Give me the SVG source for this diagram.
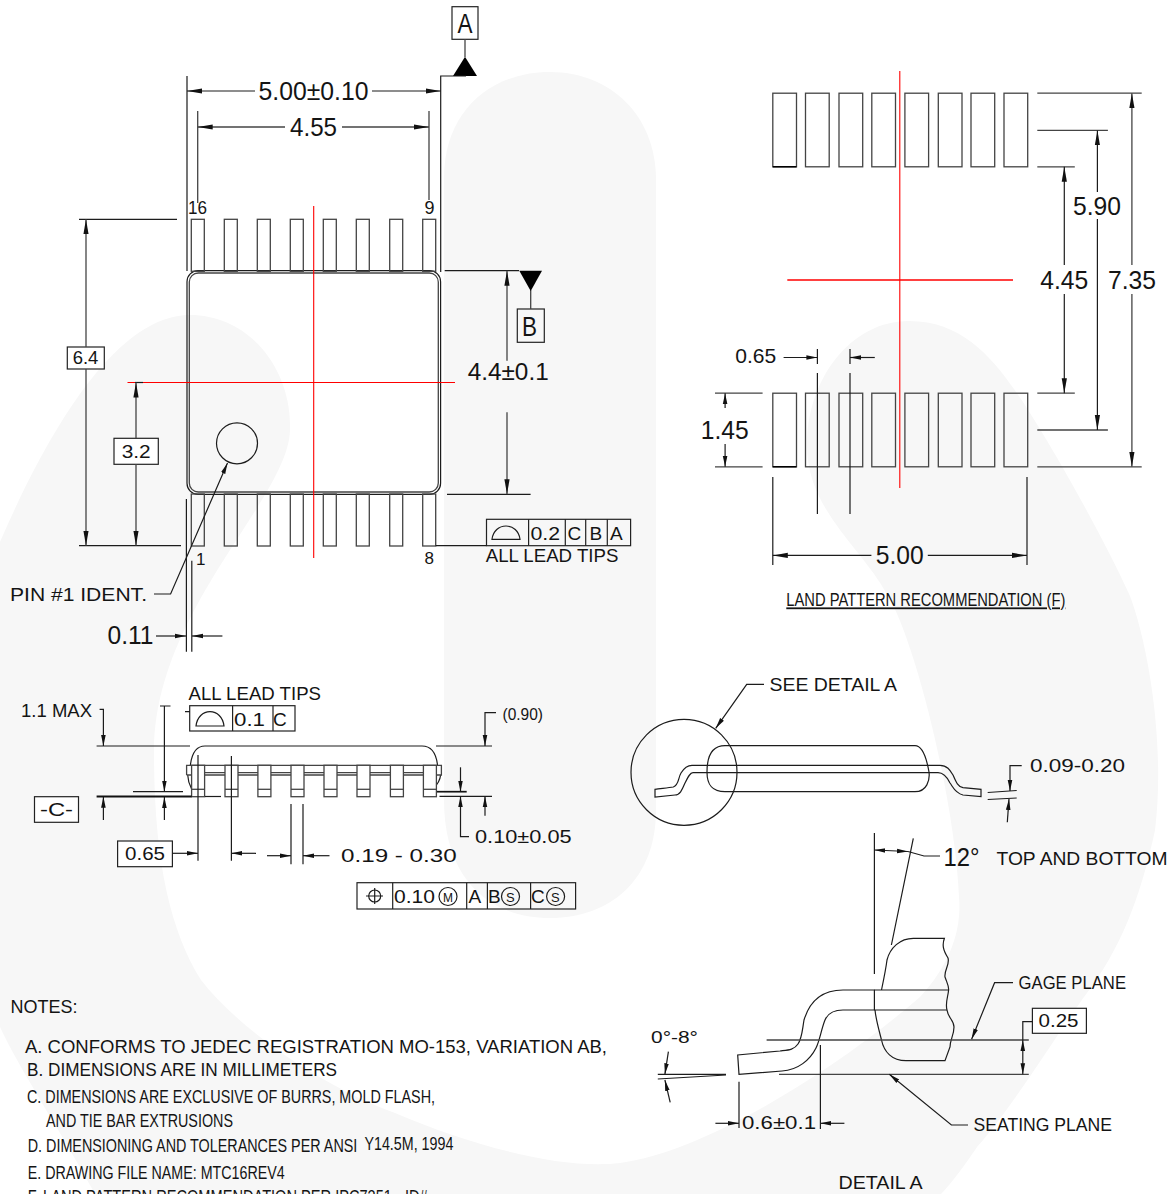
<svg xmlns="http://www.w3.org/2000/svg" width="1174" height="1194" viewBox="0 0 1174 1194">
<defs>
<style>
text{font-family:"Liberation Sans",Arial,sans-serif;fill:#141414}
.l{fill:none;stroke:#1c1c1c;stroke-width:1.2}
.g{fill:none;stroke:#444;stroke-width:1.3}
.r{fill:none;stroke:#f00;stroke-width:1.1}
.a{marker-end:url(#ar)}
.s{marker-end:url(#sm)}
.ss{marker-start:url(#sm);marker-end:url(#sm)}
.f{fill:#000;stroke:none}
.box{fill:#fff;stroke:#222;stroke-width:1.2}
.nb{fill:none;stroke:#222;stroke-width:1.2}
</style>
<marker id="ar" markerUnits="userSpaceOnUse" markerWidth="16" markerHeight="8" refX="15" refY="4" orient="auto-start-reverse"><path d="M0 1.4L15 4L0 6.6Z" fill="#111"/></marker>
<marker id="sm" markerUnits="userSpaceOnUse" markerWidth="12" markerHeight="8" refX="11" refY="4" orient="auto-start-reverse"><path d="M0 1.7L11 4L0 6.3Z" fill="#111"/></marker>
<g id="lead"><rect width="13" height="52" class="g"/></g>
<g id="pad"><rect width="23.7" height="73.6" class="g"/></g>
<g id="slead"><rect width="13" height="31.4" class="g" fill="#fff" style="fill:#fff"/><path d="M0 24H13" class="g"/></g>
</defs>
<rect width="1174" height="1194" fill="#fff"/>
<g id="watermark" fill="#f7f7f7">
<path d="M444 178C444 112 490 72 550 72C610 72 656 115 656 180L656 810C656 880 610 918 550 918C490 918 444 880 444 800Z"/>
<path d="M0 542C40 450 110 315 190 315C250 315 292 370 290 430C288 500 154 610 154 752C154 860 170 930 201 980C240 1030 320 1085 395 1113C470 1145 560 1170 620 1163C700 1153 830 1075 920 997C950 965 962 930 959 897C955 800 915 640 888 596C860 545 807 510 807 445C807 380 850 321 909 321C960 321 990 355 1014 389C1040 425 1100 530 1130 596C1150 650 1165 750 1155 830C1140 900 1120 950 1084 997C1050 1045 1010 1110 977 1147C965 1165 950 1185 941 1194L95 1194C60 1130 20 1070 0 1027Z"/>
</g>
<g id="package-top">
<rect x="187" y="270.7" width="253.6" height="223.6" rx="11" class="l"/>
<rect x="189.3" y="273" width="249" height="219" rx="9" class="g"/>
<use href="#lead" x="191.3" y="219.3"/><use href="#lead" x="224.3" y="219.3"/><use href="#lead" x="257.3" y="219.3"/><use href="#lead" x="290.3" y="219.3"/><use href="#lead" x="323.3" y="219.3"/><use href="#lead" x="356.3" y="219.3"/><use href="#lead" x="389.7" y="219.3"/><use href="#lead" x="422.7" y="219.3"/>
<use href="#lead" x="191.3" y="494"/><use href="#lead" x="224.3" y="494"/><use href="#lead" x="257.3" y="494"/><use href="#lead" x="290.3" y="494"/><use href="#lead" x="323.3" y="494"/><use href="#lead" x="356.3" y="494"/><use href="#lead" x="389.7" y="494"/><use href="#lead" x="422.7" y="494"/>
<circle cx="237" cy="443.3" r="20.5" class="l"/>
<path d="M313.7 206V558M127.5 382.5H455" class="r"/>
<text x="188" y="214" font-size="18" textLength="19" lengthAdjust="spacingAndGlyphs">16</text>
<text x="424.5" y="214" font-size="18">9</text>
<text x="196" y="565" font-size="17">1</text>
<text x="424.5" y="563.5" font-size="17">8</text>
</g>
<g id="datum-a">
<rect x="452" y="6.7" width="26" height="32.6" class="nb"/>
<text x="457.5" y="33" font-size="28" textLength="15" lengthAdjust="spacingAndGlyphs">A</text>
<path d="M465 39V57" class="g"/><path d="M465 56.7L453 76H477Z" class="f"/>
</g>
<g id="datum-b">
<rect x="517.3" y="309" width="27" height="33.3" class="nb"/>
<text x="522" y="336" font-size="28" textLength="15" lengthAdjust="spacingAndGlyphs">B</text>
<path d="M530.7 290V309" class="g"/><path d="M519.3 270.7H542L530.7 291Z" class="f"/>
</g>
<g id="box-6-4"><rect x="67.3" y="347" width="37" height="22" class="box"/><text x="72.7" y="364" font-size="18.5" textLength="25.7" lengthAdjust="spacingAndGlyphs">6.4</text></g>
<g id="box-3-2"><rect x="114" y="438.3" width="44.3" height="26" class="box"/><text x="121.7" y="458" font-size="19" textLength="29" lengthAdjust="spacingAndGlyphs">3.2</text></g>
<g id="tol-top">
<rect x="486.5" y="519.3" width="144.1" height="26.4" class="nb"/>
<path d="M528.6 519.3V545.7M565.3 519.3V545.7M585.7 519.3V545.7M607.3 519.3V545.7" class="nb"/>
<path d="M492 539.3H520C519 531 513 526 506 526C499 526 493 531 492 539.3Z" class="l"/>
<text x="530.4" y="539.5" font-size="19" textLength="29.6" lengthAdjust="spacingAndGlyphs">0.2</text>
<text x="567.5" y="539.5" font-size="19">C</text><text x="589.5" y="539.5" font-size="19">B</text><text x="610" y="539.5" font-size="19">A</text>
<text x="485.7" y="562.3" font-size="18" textLength="132.7" lengthAdjust="spacingAndGlyphs">ALL LEAD TIPS</text>
</g>
<g id="labels-top">
<text x="258.5" y="100" font-size="25" textLength="110" lengthAdjust="spacingAndGlyphs">5.00±0.10</text>
<text x="290" y="136" font-size="25" textLength="47" lengthAdjust="spacingAndGlyphs">4.55</text>
<text x="467.7" y="380" font-size="24" textLength="81" lengthAdjust="spacingAndGlyphs">4.4±0.1</text>
<text x="10" y="601" font-size="18" textLength="137" lengthAdjust="spacingAndGlyphs">PIN #1 IDENT.</text>
<text x="107.5" y="644" font-size="25" textLength="46" lengthAdjust="spacingAndGlyphs">0.11</text>
</g>
<g id="land-pattern">
<use href="#pad" x="772.8" y="93.2"/><use href="#pad" x="805.5" y="93.2"/><use href="#pad" x="839" y="93.2"/><use href="#pad" x="871.8" y="93.2"/><use href="#pad" x="904.9" y="93.2"/><use href="#pad" x="938.3" y="93.2"/><use href="#pad" x="971" y="93.2"/><use href="#pad" x="1004" y="93.2"/>
<use href="#pad" x="772.8" y="393.2"/><use href="#pad" x="805.5" y="393.2"/><use href="#pad" x="839" y="393.2"/><use href="#pad" x="871.8" y="393.2"/><use href="#pad" x="904.9" y="393.2"/><use href="#pad" x="938.3" y="393.2"/><use href="#pad" x="971" y="393.2"/><use href="#pad" x="1004" y="393.2"/>
<path d="M772.8 166.8H796.5M772.8 466.8H796.5" stroke="#000" stroke-width="1.6"/>
<path d="M899.8 71V488" class="r"/><path d="M787.3 280H1013" stroke="#f00" stroke-width="1.6" fill="none"/>
<text x="1073" y="215" font-size="25" textLength="48" lengthAdjust="spacingAndGlyphs">5.90</text>
<text x="1040.3" y="288.6" font-size="25" textLength="48" lengthAdjust="spacingAndGlyphs">4.45</text>
<text x="1108" y="288.6" font-size="25" textLength="48" lengthAdjust="spacingAndGlyphs">7.35</text>
<text x="735.3" y="363" font-size="21" textLength="41" lengthAdjust="spacingAndGlyphs">0.65</text>
<text x="700.8" y="438.6" font-size="25" textLength="48" lengthAdjust="spacingAndGlyphs">1.45</text>
<text x="875.8" y="563.6" font-size="25" textLength="48" lengthAdjust="spacingAndGlyphs">5.00</text>
<text x="786.3" y="606.4" font-size="18" textLength="279" lengthAdjust="spacingAndGlyphs" text-decoration="underline">LAND PATTERN RECOMMENDATION (F)</text>
</g>
<g id="side-view">
<path d="M190.4 765C192 752 197 746 205 746H422C431 746 436 752 437.5 765" class="l"/>
<path d="M187.7 775C188 782 190 786 191.6 789M440.6 775C440 782 436 786 433 789" class="l"/>
<path d="M186.6 775V765.3H441.4V775H186.6M205 772.7H423" class="g"/>
<use href="#slead" x="191.6" y="765.3"/><use href="#slead" x="225" y="765.3"/><use href="#slead" x="257.9" y="765.3"/><use href="#slead" x="291" y="765.3"/><use href="#slead" x="324" y="765.3"/><use href="#slead" x="357" y="765.3"/><use href="#slead" x="390.4" y="765.3"/><use href="#slead" x="423.4" y="765.3"/>
<text x="21" y="716.7" font-size="18" textLength="71" lengthAdjust="spacingAndGlyphs">1.1 MAX</text>
<text x="502.5" y="720" font-size="16" textLength="40.5" lengthAdjust="spacingAndGlyphs">(0.90)</text>
<text x="188.5" y="700" font-size="18" textLength="132.5" lengthAdjust="spacingAndGlyphs">ALL LEAD TIPS</text>
<text x="475" y="842.5" font-size="19" textLength="96.6" lengthAdjust="spacingAndGlyphs">0.10±0.05</text>
<text x="341" y="861.7" font-size="18" textLength="115.7" lengthAdjust="spacingAndGlyphs">0.19 - 0.30</text>
</g>
<g id="tol-side">
<rect x="189.7" y="705.7" width="105.3" height="25.3" class="nb"/>
<path d="M232.6 705.7V731M273 705.7V731" class="nb"/>
<path d="M196 726H224C223 717 217 711.7 210 711.7C203 711.7 197 717 196 726Z" class="l"/>
<text x="234" y="725.5" font-size="19" textLength="31" lengthAdjust="spacingAndGlyphs">0.1</text>
<text x="273" y="725.5" font-size="19">C</text>
</g>
<g id="box-c"><rect x="34.5" y="796.7" width="44" height="25.6" class="box"/><text x="40" y="815.5" font-size="19" textLength="33" lengthAdjust="spacingAndGlyphs">-C-</text></g>
<g id="box-0-65"><rect x="117.6" y="841" width="54.8" height="25.7" class="box"/><text x="125" y="860" font-size="19" textLength="40" lengthAdjust="spacingAndGlyphs">0.65</text></g>
<g id="fcf">
<rect x="357" y="882.7" width="218.6" height="26.3" class="nb"/>
<path d="M392.7 882.7V909M466.7 882.7V909M487.4 882.7V909M530.6 882.7V909" class="nb"/>
<circle cx="374.7" cy="896" r="6" class="l"/><path d="M366 896H383M374.7 888V904" class="l"/>
<text x="394" y="903" font-size="19" textLength="41" lengthAdjust="spacingAndGlyphs">0.10</text>
<circle cx="448" cy="896.5" r="9" class="l"/><text x="443" y="901.5" font-size="13" textLength="10" lengthAdjust="spacingAndGlyphs">M</text>
<text x="468.5" y="903" font-size="19">A</text>
<text x="488" y="903" font-size="19">B</text>
<circle cx="510.5" cy="896.5" r="9" class="l"/><text x="506" y="901.5" font-size="13">S</text>
<text x="531" y="903" font-size="19">C</text>
<circle cx="555.6" cy="896.5" r="9" class="l"/><text x="551" y="901.5" font-size="13">S</text>
</g>
<g id="detail-circle">
<circle cx="684" cy="772.3" r="53" class="l"/>
<path d="M707 772C707 755 712 745.7 725 745.7H915C922 745.7 926 755 929 772C930 780 927 791.7 915 791.7H725C712 791.7 707 785 707 772Z" class="l"/>
<path d="M655 789.3C660 788.5 668 788 673.3 787C679 785 678 778 681 773C684 768 688 765.3 692 765.3H940C947 765.3 950 770 953 775C956 782 958 787 963 787.7L981 789.3V796.7L963 795C955 793 953 787 950 783C947 777 943 772.7 938 772.7H693C690 772.7 688 777 685 783C682 790 680 795 675 795L655 797Z" class="l"/>
<path d="M987.7 792.5L1016.7 790.5M987.7 799.5L1016.7 798" class="l"/>
<text x="769.5" y="691" font-size="18" textLength="127.5" lengthAdjust="spacingAndGlyphs">SEE DETAIL A</text>
<text x="1030" y="771.7" font-size="19" textLength="95" lengthAdjust="spacingAndGlyphs">0.09-0.20</text>
</g>
<g id="detail-a">
<path d="M881.5 990C884 978 886 968 887 960C890 948 900 938.3 913.3 938.3H944.4C942 945 943 950 948 958C950 965 944 970 945 977C947 983 949 986 948.6 990C948 997 945 1003 947 1010C948 1018 954 1020 954 1027C954 1035 950 1040 950 1047L945 1060.7H906C892 1060.7 884 1052 881.5 1040C879 1030 876 1020 875 1010" class="l"/>
<path d="M874.4 990H948.6M874.4 1010H947M874.4 990V1010" class="l"/>
<path d="M875 990H843C823 990 810 1000 804 1020C802 1032 802 1038 798 1044C794 1050 788 1050 780 1051L737.7 1055L739 1074.3L782 1071C798 1070 810 1060 816 1048C820 1040 821 1030 825 1020C828 1013 835 1010 843 1010H875" class="l"/>
<path d="M766.6 1040H1028.8M779 1074.3H1028.8" class="g"/>
<text x="943.5" y="866" font-size="26" textLength="36" lengthAdjust="spacingAndGlyphs">12°</text>
<text x="996.5" y="865" font-size="19" textLength="171" lengthAdjust="spacingAndGlyphs">TOP AND BOTTOM</text>
<text x="1018.6" y="989.3" font-size="18" textLength="107.4" lengthAdjust="spacingAndGlyphs">GAGE PLANE</text>
<text x="651" y="1043.3" font-size="17" textLength="47" lengthAdjust="spacingAndGlyphs">0°-8°</text>
<text x="742" y="1129.3" font-size="19" textLength="74" lengthAdjust="spacingAndGlyphs">0.6±0.1</text>
<text x="973.5" y="1131" font-size="18" textLength="138.5" lengthAdjust="spacingAndGlyphs">SEATING PLANE</text>
<text x="838.5" y="1189" font-size="18" textLength="84" lengthAdjust="spacingAndGlyphs">DETAIL A</text>
</g>
<g id="box-0-25"><rect x="1032.4" y="1008.3" width="54" height="25" class="box"/><text x="1038.5" y="1027.3" font-size="19" textLength="40" lengthAdjust="spacingAndGlyphs">0.25</text></g>
<g id="notes">
<text x="10.5" y="1013" font-size="19" textLength="67" lengthAdjust="spacingAndGlyphs">NOTES:</text>
<text x="25" y="1052.7" font-size="18" textLength="582" lengthAdjust="spacingAndGlyphs">A. CONFORMS TO JEDEC REGISTRATION MO-153, VARIATION AB,</text>
<text x="27" y="1075.7" font-size="18" textLength="310" lengthAdjust="spacingAndGlyphs">B. DIMENSIONS ARE IN MILLIMETERS</text>
<text x="27" y="1102.7" font-size="18" textLength="408" lengthAdjust="spacingAndGlyphs">C. DIMENSIONS ARE EXCLUSIVE OF BURRS, MOLD FLASH,</text>
<text x="46" y="1127.3" font-size="18" textLength="187" lengthAdjust="spacingAndGlyphs">AND TIE BAR EXTRUSIONS</text>
<text transform="translate(27.7 1152.3) scale(.8 1)" font-size="18" textLength="412" lengthAdjust="spacingAndGlyphs">D. DIMENSIONING AND TOLERANCES PER ANSI</text>
<text x="364.4" y="1150" font-size="18" textLength="89" lengthAdjust="spacingAndGlyphs">Y14.5M, 1994</text>
<text x="27.7" y="1179" font-size="18" textLength="257" lengthAdjust="spacingAndGlyphs">E. DRAWING FILE NAME: MTC16REV4</text>
<text x="27.7" y="1203" font-size="18" textLength="400" lengthAdjust="spacingAndGlyphs">F. LAND PATTERN RECOMMENDATION PER IPC7351 - ID#</text>
</g>
<g id="connectors">
<path d="M187 76V271M440.7 272V76H466" class="l"/>
<path d="M255 91H187" class="l a"/><path d="M372 91H440.7" class="l a"/>
<path d="M197.7 111V203M429 111V200" class="g"/>
<path d="M285 127H197.7" class="g a"/><path d="M342 127H429" class="g a"/>
<path d="M79 219.3H177M79 545.7H181" class="l"/>
<path d="M86 347V219.3" class="g a"/><path d="M86 369V545.7" class="g a"/>
<path d="M135 382.5H143" class="l"/>
<path d="M136 438V382.5" class="g a"/><path d="M136 464V545.7" class="g a"/>
<path d="M444.7 270.7H519M447 494.3H530.6" class="l"/>
<path d="M507 360.7V270.7" class="g a"/><path d="M507 412.3V494.3" class="g a"/>
<path d="M154 594H170.6L227.5 463" class="l s"/>
<path d="M435.7 545.7H486.5" class="l"/>
<path d="M186.4 499V651.7M191.8 560.7V651.7" class="l"/>
<path d="M156 636H186" class="l s"/><path d="M222.4 636H192" class="l s"/>
<path d="M1037.3 93.2H1141.7M1037.3 130.4H1107.9M1037.3 166.8H1074.8M1037.3 393.2H1074.8M1037.3 430H1107.9M1037.3 466.8H1141.7" class="g"/>
<path d="M1131.9 265V93.2" class="g a"/><path d="M1131.9 294V466.8" class="g a"/>
<path d="M1097.4 192V130.4" class="l a"/><path d="M1097.4 219V430" class="l a"/>
<path d="M1064.3 265V166.8" class="l a"/><path d="M1064.3 294V393.2" class="l a"/>
<path d="M783.6 357.5H817.4" class="l s"/><path d="M874.8 357.5H850" class="l s"/>
<path d="M817.4 349V364M850 349V364M817.4 373V514M850 373V514" class="l"/>
<path d="M715 393.2H762.6M715 466.8H762.6" class="g"/>
<path d="M725.1 408V393.2" class="l s"/><path d="M725.1 444V466.8" class="l s"/>
<path d="M772.8 477V565M1027 477V565" class="l"/>
<path d="M871.4 555.4H772.8" class="l a"/><path d="M927.8 555.4H1027" class="l a"/>
<path d="M96.6 746H190M436 746H492" class="l"/>
<path d="M99.6 709.3H103.4V746" class="l s"/><path d="M103.4 820V796.7" class="l s"/>
<path d="M496 712.7H485V746" class="l s"/>
<path d="M160 706H170.5M185 711.7H190M133 791.7H183" class="l"/>
<path d="M164.4 706V791.7" class="l s"/><path d="M164.4 820V797" class="l s"/>
<path d="M96.6 796.5H191.6" stroke="#111" stroke-width="1.9" fill="none"/>
<path d="M205 796.5H221" class="l"/>
<path d="M437 791.7H466.7" stroke="#111" stroke-width="1.7" fill="none"/><path d="M439.5 796.3H492" class="l"/>
<path d="M460.5 767.3V791.7" class="l s"/><path d="M469 836.7H460.5V796.3" class="l s"/>
<path d="M485 815.7V796.3" class="l s"/>
<path d="M172.4 853.3H198" class="l s"/><path d="M256 853.3H231.4" class="l s"/>
<path d="M198 755V860.7M231.4 756V860.7M291 804V864.3M303 804V864.3" class="l"/>
<path d="M267 855.7H291" class="l s"/><path d="M329.5 855.7H303" class="l s"/>
<path d="M764 684.3H746.7L715.7 728.3" class="l s"/>
<path d="M1021.7 765.7H1010V791" class="l s"/><path d="M1007.3 822.3L1009 799" class="l s"/>
<path d="M874.4 833V974M913.3 838.3L891.4 945" class="l"/>
<path d="M874.4 850L908 851.5" class="l ss"/>
<path d="M908 851.5L924 856H940" class="l"/>
<path d="M1013 982.7H994.6L971.6 1039.3" class="l s"/>
<path d="M968 1125H951.4L889.3 1074.3" class="l s"/>
<path d="M1032.4 1021.7H1022.8V1040" class="l"/>
<path d="M1022.8 1057V1040" class="l s"/><path d="M1022.8 1057V1074.3" class="l s"/>
<path d="M668.4 1051.7L664.9 1074.3" class="l s"/><path d="M670.2 1102.3L664.9 1080" class="l s"/>
<path d="M657.8 1074.3H726M657.8 1079L726 1075" class="l"/>
<path d="M739 1081.7V1128M820.4 1045V1129" class="l"/>
<path d="M715.4 1123.3H739" class="l s"/><path d="M844.4 1123.3H820.4" class="l s"/>
</g>
</svg>
